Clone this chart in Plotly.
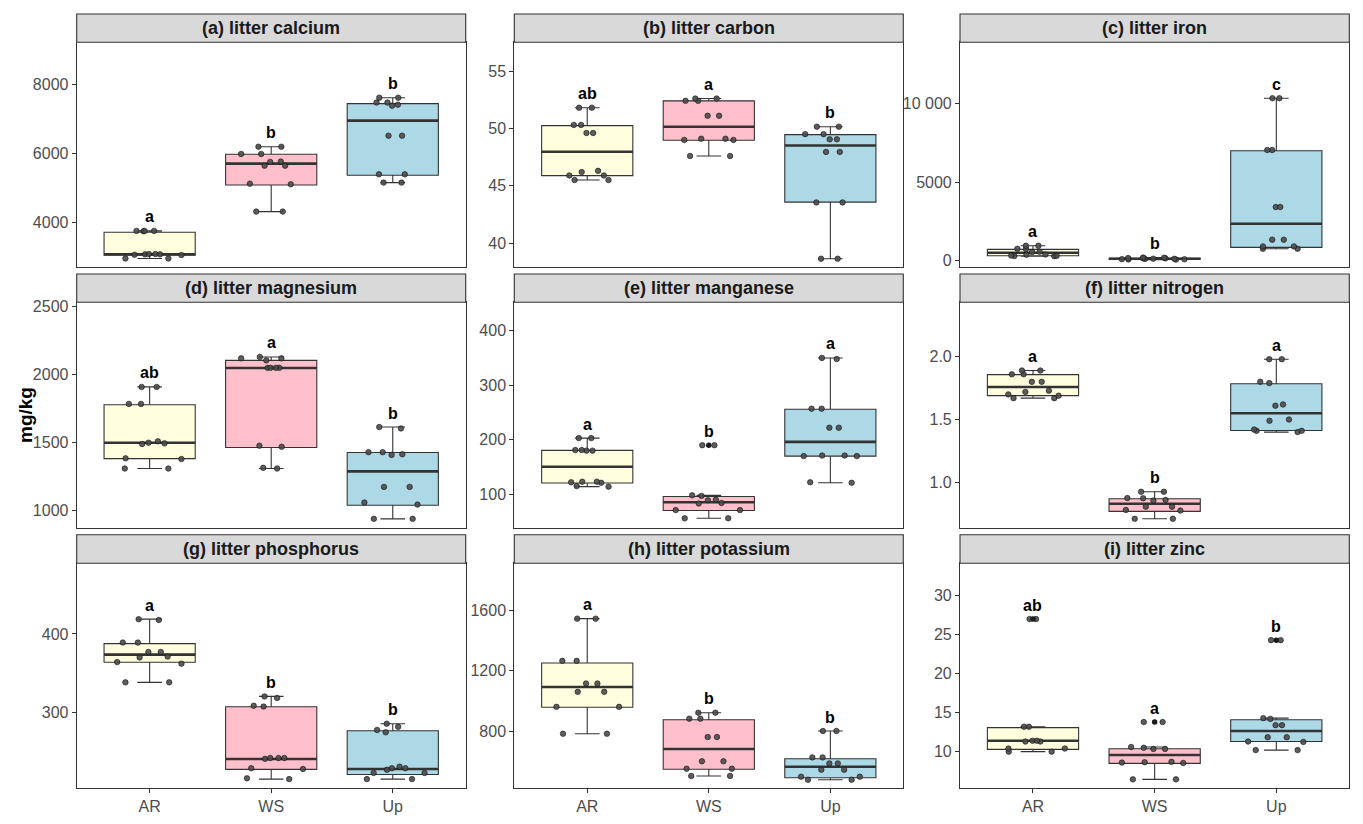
import plotly.graph_objects as go

# ---------------- data ----------------
groups = ["AR", "WS", "Up"]

titles = ["(a) litter calcium", "(b) litter carbon", "(c) litter iron",
          "(d) litter magnesium", "(e) litter manganese", "(f) litter nitrogen",
          "(g) litter phosphorus", "(h) litter potassium", "(i) litter zinc"]

# (a) calcium
ca_AR = [3750, 3750, 3750, 3740, 3080, 3080, 3070, 3070, 3060, 3050, 2950, 2950]
ca_WS = [6190, 6190, 5980, 5980, 5760, 5750, 5640, 5640, 5120, 5100, 4310, 4310]
ca_Up = [7610, 7610, 7470, 7470, 7410, 7380, 6510, 6510, 5390, 5390, 5150, 5150]
ca_q1 = [3043, 5082, 5362]
ca_med = [3072, 5700, 6947]
ca_q3 = [3710, 5971, 7440]
ca_letters = ["a", "b", "b"]
ca_range = [2695, 9217]
ca_ticks = [4000, 6000, 8000]
ca_ticktext = ["4000", "6000", "8000"]

# (b) carbon
c_AR = [51.8, 51.8, 50.3, 50.3, 49.6, 49.6, 46.3, 46.2, 45.9, 45.9, 45.5, 45.5]
c_WS = [52.6, 52.6, 52.4, 52.4, 51.1, 51.1, 49.1, 49.1, 49.0, 49.0, 47.6, 47.6]
c_Up = [50.15, 50.15, 49.5, 49.5, 49.05, 49.05, 47.95, 47.95, 43.55, 43.55, 38.65, 38.65]
c_q1 = [45.89, 48.97, 43.58]
c_med = [47.97, 50.15, 48.51]
c_q3 = [50.24, 52.40, 49.46]
c_letters = ["ab", "a", "b"]
c_range = [37.9, 57.5]
c_ticks = [40, 45, 50, 55]
c_ticktext = ["40", "45", "50", "55"]

# (c) iron
fe_AR = [950, 950, 760, 740, 570, 550, 400, 380, 330, 310, 300, 290]
fe_WS = [200, 190, 170, 160, 150, 130, 120, 110, 100, 90, 80, 70]
fe_Up = [10350, 10350, 7050, 7050, 3420, 3420, 1340, 1340, 910, 910, 760, 760]
fe_q1 = [318, 90, 849]
fe_med = [510, 125, 2357]
fe_q3 = [722, 160, 7006]
fe_letters = ["a", "b", "c"]
fe_range = [-420, 13911]
fe_ticks = [0, 5000, 10000]
fe_ticktext = ["0", "5000", "10 000"]

# (d) magnesium
mg_AR = [1910, 1910, 1785, 1785, 1510, 1500, 1495, 1490, 1385, 1380, 1310, 1310]
mg_WS = [2130, 2120, 2120, 2105, 2050, 2050, 2050, 2050, 1478, 1470, 1310, 1315]
mg_Up = [1615, 1605, 1430, 1430, 1415, 1410, 1175, 1175, 1060, 1045, 940, 940]
mg_q1 = [1383, 1465, 1040]
mg_med = [1500, 2049, 1289]
mg_q3 = [1779, 2105, 1428]
mg_letters = ["ab", "a", "b"]
mg_range = [875, 2532]
mg_ticks = [1000, 1500, 2000, 2500]
mg_ticktext = ["1000", "1500", "2000", "2500"]

# (e) manganese
mn_AR = [203, 203, 181, 181, 180, 180, 123, 123, 122, 121, 115, 114]
mn_WS = [190, 190, 98, 97, 90, 89, 84, 83, 71, 71, 56, 56]
mn_Up = [350, 348, 257, 257, 222, 222, 171, 171, 170, 170, 122, 121]
mn_q1 = [120.6, 70.3, 170]
mn_med = [150.5, 85.4, 196]
mn_q3 = [180.4, 96, 256]
mn_letters = ["a", "b", "a"]
mn_range = [38.7, 452]
mn_ticks = [100, 200, 300, 400]
mn_ticktext = ["100", "200", "300", "400"]

# (f) nitrogen
n_AR = [1.89, 1.89, 1.86, 1.86, 1.80, 1.80, 1.73, 1.72, 1.70, 1.69, 1.67, 1.67]
n_WS = [0.925, 0.925, 0.875, 0.873, 0.86, 0.855, 0.806, 0.806, 0.78, 0.775, 0.71, 0.71]
n_Up = [1.98, 1.98, 1.80, 1.79, 1.62, 1.61, 1.50, 1.49, 1.42, 1.41, 1.41, 1.40]
n_q1 = [1.69, 0.769, 1.413]
n_med = [1.759, 0.83, 1.55]
n_q3 = [1.857, 0.87, 1.785]
n_letters = ["a", "b", "a"]
n_range = [0.639, 2.433]
n_ticks = [1.0, 1.5, 2.0]
n_ticktext = ["1.0", "1.5", "2.0"]

# (g) phosphorus
p_AR = [419, 418, 389, 389, 377, 377, 371, 370, 364, 362, 338, 338]
p_WS = [320, 318, 308, 307, 241, 241, 241, 240, 228, 227, 215, 214]
p_Up = [285, 281, 277, 274, 230, 228, 228, 226, 222, 222, 214, 214]
p_q1 = [363.7, 226.5, 220]
p_med = [373.5, 239.7, 227]
p_q3 = [387.6, 306.8, 276]
p_letters = ["a", "b", "b"]
p_range = [203, 490.6]
p_ticks = [300, 400]
p_ticktext = ["300", "400"]

# (h) potassium
k_AR = [1545, 1545, 1265, 1265, 1115, 1115, 1060, 1060, 960, 960, 782, 782]
k_WS = [921, 921, 882, 882, 760, 760, 599, 599, 550, 550, 502, 502]
k_Up = [800, 800, 625, 625, 585, 585, 543, 543, 497, 497, 477, 477]
k_q1 = [957, 546, 490]
k_med = [1092, 681, 563]
k_q3 = [1251, 875, 616]
k_letters = ["a", "b", "b"]
k_range = [424, 1912]
k_ticks = [800, 1200, 1600]
k_ticktext = ["800", "1200", "1600"]

# (i) zinc
zn_AR = [27.0, 27.0, 13.2, 13.2, 11.4, 11.4, 11.3, 11.3, 10.4, 10.4, 10.0, 10.0]
zn_WS = [13.8, 13.8, 10.6, 10.5, 10.35, 10.35, 8.7, 8.65, 8.6, 8.55, 6.45, 6.45]
zn_Up = [24.3, 24.3, 14.3, 14.2, 13.4, 13.4, 11.85, 11.85, 11.3, 11.25, 10.2, 10.2]
zn_q1 = [10.3, 8.5, 11.3]
zn_med = [11.4, 9.57, 12.65]
zn_q3 = [13.08, 10.38, 14.1]
zn_letters = ["ab", "a", "b"]
zn_range = [5.38, 34.15]
zn_ticks = [10, 15, 20, 25, 30]
zn_ticktext = ["10", "15", "20", "25", "30"]

panels = [
    ([ca_AR, ca_WS, ca_Up], ca_q1, ca_med, ca_q3, ca_letters, ca_range, ca_ticks, ca_ticktext),
    ([c_AR, c_WS, c_Up], c_q1, c_med, c_q3, c_letters, c_range, c_ticks, c_ticktext),
    ([fe_AR, fe_WS, fe_Up], fe_q1, fe_med, fe_q3, fe_letters, fe_range, fe_ticks, fe_ticktext),
    ([mg_AR, mg_WS, mg_Up], mg_q1, mg_med, mg_q3, mg_letters, mg_range, mg_ticks, mg_ticktext),
    ([mn_AR, mn_WS, mn_Up], mn_q1, mn_med, mn_q3, mn_letters, mn_range, mn_ticks, mn_ticktext),
    ([n_AR, n_WS, n_Up], n_q1, n_med, n_q3, n_letters, n_range, n_ticks, n_ticktext),
    ([p_AR, p_WS, p_Up], p_q1, p_med, p_q3, p_letters, p_range, p_ticks, p_ticktext),
    ([k_AR, k_WS, k_Up], k_q1, k_med, k_q3, k_letters, k_range, k_ticks, k_ticktext),
    ([zn_AR, zn_WS, zn_Up], zn_q1, zn_med, zn_q3, zn_letters, zn_range, zn_ticks, zn_ticktext),
]

# ---------------- style / layout ----------------
# the page body keeps its default 8px margin, so the figure is drawn 8px in
OFF = 8
W, H = 1363 - 2 * OFF, 824 - 2 * OFF
FONT = "Liberation Sans, Arial, sans-serif"
EDGE = "#333333"
fills = ["#FFFFE0", "#FFC0CB", "#ADD8E6"]
col_px = [(76.7, 465.7), (514.3, 903.3), (960.0, 1349.3)]
row_px = [(42.3, 267.3), (302.3, 527.7), (563.3, 787.7)]
strip_px = [(14.0, 42.3), (274.0, 302.3), (534.7, 563.3)]
BOXW = 0.75


def px_x(v):
    return (v - OFF) / W


def px_y(v):
    return 1 - (v - OFF) / H


def fences(vals, q1, q3):
    iqr = q3 - q1
    lo, hi = q1 - 1.5 * iqr, q3 + 1.5 * iqr
    inside = [v for v in vals if lo <= v <= hi]
    lf = min(min(inside), q1)
    uf = max(max(inside), q3)
    outs = sorted(set(v for v in vals if v < lo or v > hi))
    return lf, uf, outs


fig = go.Figure()
annotations = []
shapes = []
layout_axes = {}

for k, (vals3, q1s, meds, q3s, letters, yr, tv, tt) in enumerate(panels):
    r, c = divmod(k, 3)
    xa = "x" if k == 0 else f"x{k + 1}"
    ya = "y" if k == 0 else f"y{k + 1}"
    for g, name in enumerate(groups):
        vals = vals3[g]
        lf, uf, outs = fences(vals, q1s[g], q3s[g])
        common = dict(xaxis=xa, yaxis=ya, showlegend=False, hoverinfo="skip",
                      width=BOXW, orientation="v")
        # box with whiskers
        fig.add_trace(go.Box(x=[name], q1=[q1s[g]], median=[meds[g]], q3=[q3s[g]],
                             lowerfence=[lf], upperfence=[uf], fillcolor=fills[g],
                             line=dict(color=EDGE, width=1.1), whiskerwidth=0.27,
                             boxpoints=False, **common))
        # thick median line
        fig.add_trace(go.Box(x=[name], q1=[meds[g]], median=[meds[g]], q3=[meds[g]],
                             lowerfence=[meds[g]], upperfence=[meds[g]],
                             fillcolor="rgba(0,0,0,0)", line=dict(color=EDGE, width=2.6),
                             whiskerwidth=0, boxpoints=False, **common))
        # outliers at the box centre
        if outs:
            fig.add_trace(go.Scatter(x=[name] * len(outs), y=outs, mode="markers",
                                     marker=dict(color="#1a1a1a", size=5.5),
                                     xaxis=xa, yaxis=ya, showlegend=False, hoverinfo="skip"))
        # jittered samples
        fig.add_trace(go.Box(x=[name] * len(vals), y=vals, boxpoints="all", jitter=0.9,
                             pointpos=0, fillcolor="rgba(0,0,0,0)",
                             line=dict(color="rgba(0,0,0,0)", width=0),
                             marker=dict(color="rgba(75,75,75,0.9)", size=5.5,
                                         line=dict(color="#111111", width=0.6)),
                             **common))
        annotations.append(dict(x=name, y=max(vals), xref=xa, yref=ya, yshift=14,
                                text=f"<b>{letters[g]}</b>", showarrow=False,
                                yanchor="middle", xanchor="center",
                                font=dict(family=FONT, size=16, color="black")))

    x0, x1 = col_px[c]
    y0, y1 = row_px[r]
    s0, s1 = strip_px[r]
    bottom = (r == 2)
    layout_axes["xaxis" if k == 0 else f"xaxis{k + 1}"] = dict(
        domain=[px_x(x0), px_x(x1)], anchor=ya, type="category",
        categoryorder="array", categoryarray=groups, range=[-0.6, 2.6],
        showline=True, mirror=True, linecolor=EDGE, linewidth=1.1,
        ticks="outside" if bottom else "", ticklen=4, tickwidth=1, tickcolor=EDGE,
        showticklabels=bottom, tickfont=dict(family=FONT, size=16, color="#4D4D4D"),
        showgrid=False, zeroline=False, automargin=False)
    layout_axes["yaxis" if k == 0 else f"yaxis{k + 1}"] = dict(
        domain=[px_y(y1), px_y(y0)], anchor=xa, range=yr,
        tickmode="array", tickvals=tv, ticktext=tt,
        showline=True, mirror=True, linecolor=EDGE, linewidth=1.1,
        ticks="outside", ticklen=4, tickwidth=1, tickcolor=EDGE,
        tickfont=dict(family=FONT, size=16, color="#4D4D4D"),
        showgrid=False, zeroline=False, automargin=False)

    shapes.append(dict(type="rect", xref="paper", yref="paper",
                       x0=px_x(x0), x1=px_x(x1), y0=px_y(s1), y1=px_y(s0),
                       fillcolor="#D9D9D9", line=dict(color=EDGE, width=1.1), layer="above"))
    annotations.append(dict(x=px_x((x0 + x1) / 2), y=px_y((s0 + s1) / 2),
                            xref="paper", yref="paper", text=f"<b>{titles[k]}</b>",
                            showarrow=False, xanchor="center", yanchor="middle",
                            font=dict(family=FONT, size=18, color="#1A1A1A")))

annotations.append(dict(x=px_x(25), y=px_y(415), xref="paper", yref="paper",
                        text="<b>mg/kg</b>", textangle=-90, showarrow=False,
                        xanchor="center", yanchor="middle",
                        font=dict(family=FONT, size=19, color="black")))

fig.update_layout(width=W, height=H, margin=dict(l=0, r=0, t=0, b=0),
                  paper_bgcolor="white", plot_bgcolor="white", boxmode="overlay",
                  hovermode=False, showlegend=False, annotations=annotations,
                  shapes=shapes, font=dict(family=FONT), **layout_axes)

fig.write_html("out.html")
